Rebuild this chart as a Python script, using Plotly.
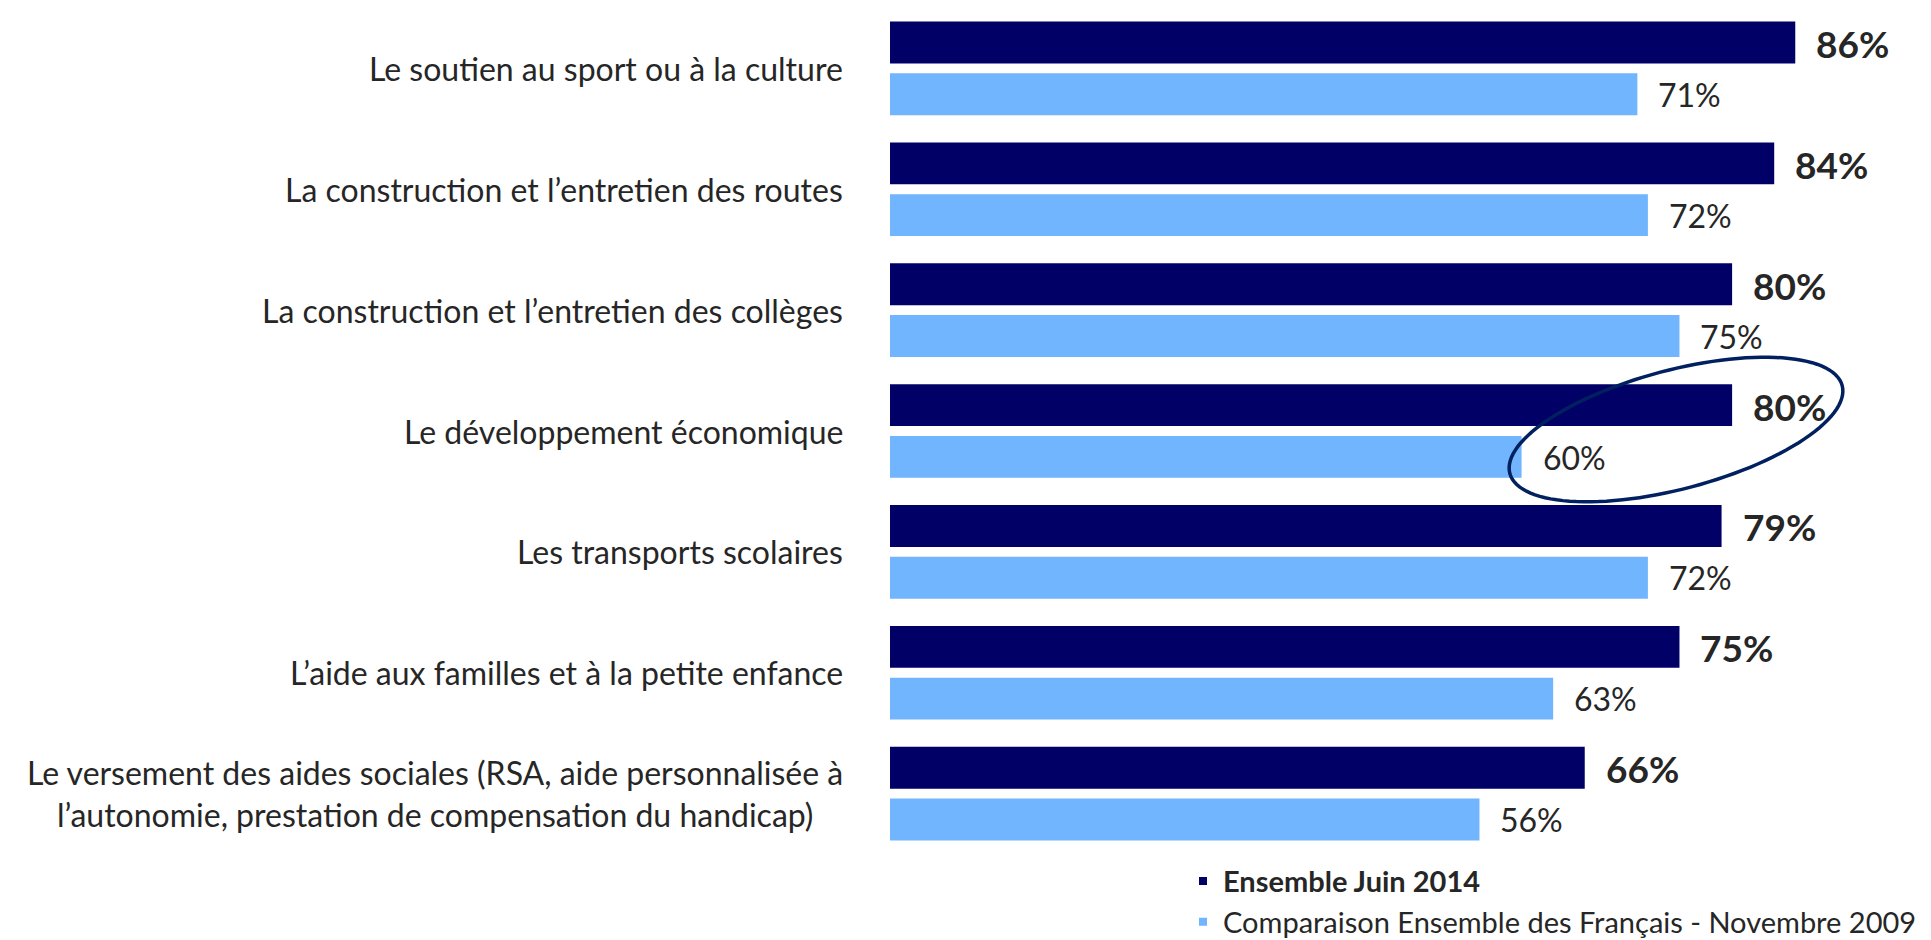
import numpy as np
import plotly.graph_objects as go

categories = [
    "Le soutien au sport ou à la culture",
    "La construction et l’entretien des routes",
    "La construction et l’entretien des collèges",
    "Le développement économique",
    "Les transports scolaires",
    "L’aide aux familles et à la petite enfance",
    "Le versement des aides sociales (RSA, aide personnalisée à<br>l’autonomie, prestation de compensation du handicap)",
]
juin_2014 = [86, 84, 80, 80, 79, 75, 66]
nov_2009 = [71, 72, 75, 60, 72, 63, 56]
series_names = ["Ensemble Juin 2014", "Comparaison Ensemble des Français - Novembre 2009"]

DARK = "#000066"
LIGHT = "#70B5FD"
TXT = "#262626"
FONT = "Lato"

fig = go.Figure()
fig.add_trace(go.Bar(y=categories, x=juin_2014, orientation="h", marker=dict(color=DARK, line=dict(width=0)),
                     showlegend=False, hoverinfo="x"))
fig.add_trace(go.Bar(y=categories, x=nov_2009, orientation="h", marker=dict(color=LIGHT, line=dict(width=0)),
                     showlegend=False, hoverinfo="x"))
# legend entries
fig.add_trace(go.Scatter(x=[None], y=[None], mode="markers", name="<b>" + series_names[0] + "</b>",
                         marker=dict(symbol="square", size=8, color=DARK)))
fig.add_trace(go.Scatter(x=[None], y=[None], mode="markers", name=series_names[1],
                         marker=dict(symbol="square", size=8, color=LIGHT)))

annotations = []
for c, v1, v2 in zip(categories, juin_2014, nov_2009):
    annotations.append(dict(x=-0.045, xref="paper", y=c, yref="y", text=c, showarrow=False,
                            xanchor="right", yanchor="middle", align="center",
                            font=dict(family=FONT, size=32, color=TXT)))
    annotations.append(dict(x=v1, xref="x", y=c, yref="y", text=f"<b>{v1}%</b>", showarrow=False,
                            xanchor="left", yanchor="middle", xshift=19, yshift=25,
                            font=dict(family=FONT, size=37, color=TXT)))
    annotations.append(dict(x=v2, xref="x", y=c, yref="y", text=f"{v2}%", showarrow=False,
                            xanchor="left", yanchor="middle", xshift=19, yshift=-26,
                            font=dict(family=FONT, size=32, color=TXT)))

# ellipse highlight around "Le développement économique" labels (pixel-space geometry -> paper)
L, T, PW, PH = 882, 0, 1000, 855
cx, cy, a, b, th = 1668, 426, 172, 60, np.deg2rad(-15)
t = np.linspace(0, 2 * np.pi, 121)
px = cx + a * np.cos(t) * np.cos(th) - b * np.sin(t) * np.sin(th)
py = cy + a * np.cos(t) * np.sin(th) + b * np.sin(t) * np.cos(th)
xp = (px - L) / PW
yp = 1 - (py - T) / PH
path = "M " + " L ".join(f"{x:.5f},{y:.5f}" for x, y in zip(xp, yp)) + " Z"

fig.update_layout(
    width=1931, height=940,
    margin=dict(l=882, r=49, t=0, b=85),
    paper_bgcolor="white", plot_bgcolor="white",
    barmode="group", bargap=0.144, bargroupgap=0.19,
    xaxis=dict(range=[0, 95], visible=False, fixedrange=True),
    yaxis=dict(range=[6.5, -0.5], showticklabels=False, showgrid=False, zeroline=False,
               showline=False, ticks="", fixedrange=True),
    annotations=annotations,
    shapes=[dict(type="path", xref="paper", yref="paper", path=path,
                 line=dict(color="#002060", width=3.5), fillcolor="rgba(0,0,0,0)")],
    legend=dict(x=0.293, y=-0.002, xanchor="left", yanchor="top", orientation="v",
                font=dict(family=FONT, size=29, color=TXT), bgcolor="rgba(0,0,0,0)",
                itemwidth=30, tracegroupgap=0),
    font=dict(family=FONT, color=TXT),
)

fig.write_html("out.html")
